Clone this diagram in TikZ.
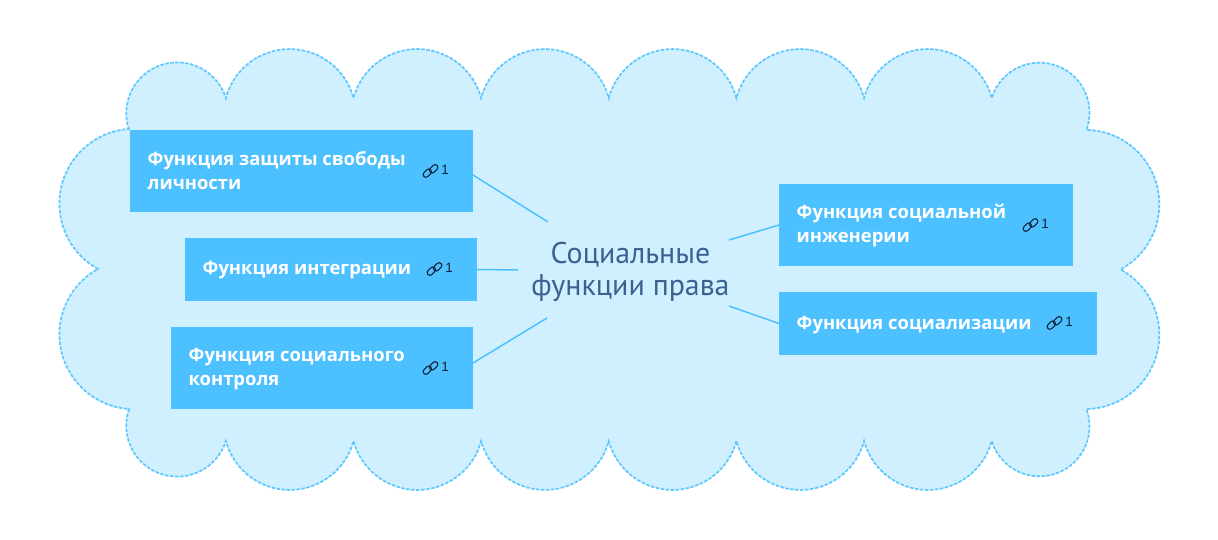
\documentclass[tikz,border=0pt]{standalone}
\usepackage{fontspec}
\setmainfont{Open Sans}
\newfontfamily\centerfont{PT Sans}
\newfontfamily\countfont{Liberation Sans}
\usetikzlibrary{calc}
\definecolor{cloudfill}{HTML}{D0EFFF}
\definecolor{cloudline}{HTML}{5CC8FF}
\definecolor{boxfill}{HTML}{4DC1FF}
\definecolor{linkline}{HTML}{4DC1FF}
\definecolor{centertext}{HTML}{3A6190}
\definecolor{iconcol}{HTML}{10233A}
\tikzset{
  x=1pt,y=1pt,
  cloudshape/.style={fill=cloudfill,draw=cloudline,line width=1.7pt,dash pattern=on 3.5pt off 1.5pt},
  topicbox/.style={fill=boxfill,anchor=north west,inner sep=0pt,outer sep=0pt},
  topictext/.style={text=white,anchor=west,inner sep=0pt,align=left,font=\fontsize{18.4}{24}\selectfont\bfseries},
  conn/.style={draw=linkline,line width=1.5pt},
  centernode/.style={text=centertext,align=center,inner sep=0pt,outer sep=0pt,font=\centerfont\fontsize{29.9}{32}\selectfont},
  linkicon/.style={draw=iconcol,line width=1.1pt,rounded corners=2.6pt},
  linkcount/.style={text=iconcol,inner sep=0pt,font=\countfont\fontsize{13.5}{13.5}\selectfont},
}
\newcommand{\linkmark}[2]{%
  \begin{scope}[shift={(#1,#2)},rotate=45]
    \draw[linkicon] (-8.5,-2) rectangle (1,3.4);
    \draw[linkicon] (-1,-3.4) rectangle (8.5,2);
  \end{scope}}
\newcommand{\topic}[7]{% name, x1, ytop, w, h, text, y offset
  \node[topicbox,minimum width=#4,minimum height=#5] (#1) at (#2,539-#3) {};
  \node[topictext] (#1t) at ($(#1.west)+(17.5,#7)$) {\rule{0pt}{14pt}#6\rule[-5pt]{0pt}{5pt}};
}
\begin{document}
\begin{tikzpicture}
\useasboundingbox (0,0) rectangle (1218,539);
\fill[white] (0,0) rectangle (1218,539);
\path[cloudshape] (129,409)
  arc[start angle=199,end angle=17.5,radius=51pt]
  arc[start angle=165,end angle=15,radius=66.07pt]
  arc[start angle=165,end angle=15,radius=66.07pt]
  arc[start angle=165,end angle=15,radius=66.07pt]
  arc[start angle=165,end angle=15,radius=66.07pt]
  arc[start angle=165,end angle=15,radius=66.07pt]
  arc[start angle=165,end angle=15,radius=66.07pt]
  arc[start angle=163,end angle=-20.2,radius=50pt]
  arc[start angle=88.94,end angle=-61.46,radius=74.3pt]
  arc[start angle=61.46,end angle=-88.94,radius=74.3pt]
  arc[start angle=20.2,end angle=-163,radius=50pt]
  arc[start angle=-15,end angle=-165,radius=66.07pt]
  arc[start angle=-15,end angle=-165,radius=66.07pt]
  arc[start angle=-15,end angle=-165,radius=66.07pt]
  arc[start angle=-15,end angle=-165,radius=66.07pt]
  arc[start angle=-15,end angle=-165,radius=66.07pt]
  arc[start angle=-15,end angle=-165,radius=66.07pt]
  arc[start angle=-17.5,end angle=-199,radius=51pt]
  arc[start angle=266,end angle=119,radius=74.8pt]
  arc[start angle=241,end angle=94,radius=74.8pt]
  -- cycle;
\topic{b1}{130}{130}{343}{82}{Функция защиты свободы\\личности}{-1.5}
\topic{b2}{185}{238}{292}{63}{Функция интеграции}{-0.5}
\topic{b3}{171}{327}{302}{82}{Функция социального\\контроля}{-0.7}
\topic{b4}{779}{184}{294}{82}{Функция социальной\\инженерии}{-1.2}
\topic{b5}{779}{292}{318}{63}{Функция социализации}{-1}
\node[centernode,minimum width=225,minimum height=96] (c) at (630.5,267) {Социальные\\функции права};
\draw[conn] ($(b1.east)+(0,-4)$) -- ($(c.north west)+(30,2)$);
\draw[conn] (b2.east) -- ($(c.west)+(0,2)$);
\draw[conn] ($(b3.east)+(0,5)$) -- ($(c.south west)+(29,2)$);
\draw[conn] (b4.west) -- ($(c.north east)+(-14,-16)$);
\draw[conn] (b5.west) -- ($(c.south east)+(-14,14)$);
\linkmark{430.5}{368}
\node[linkcount] (n1) at (445,369) {1};
\linkmark{434.5}{270}
\node[linkcount] (n2) at (449,271) {1};
\linkmark{430.5}{171}
\node[linkcount] (n3) at (445,172) {1};
\linkmark{1030.5}{314}
\node[linkcount] (n4) at (1045,315) {1};
\linkmark{1054.5}{216}
\node[linkcount] (n5) at (1069,217) {1};
\end{tikzpicture}
\end{document}
